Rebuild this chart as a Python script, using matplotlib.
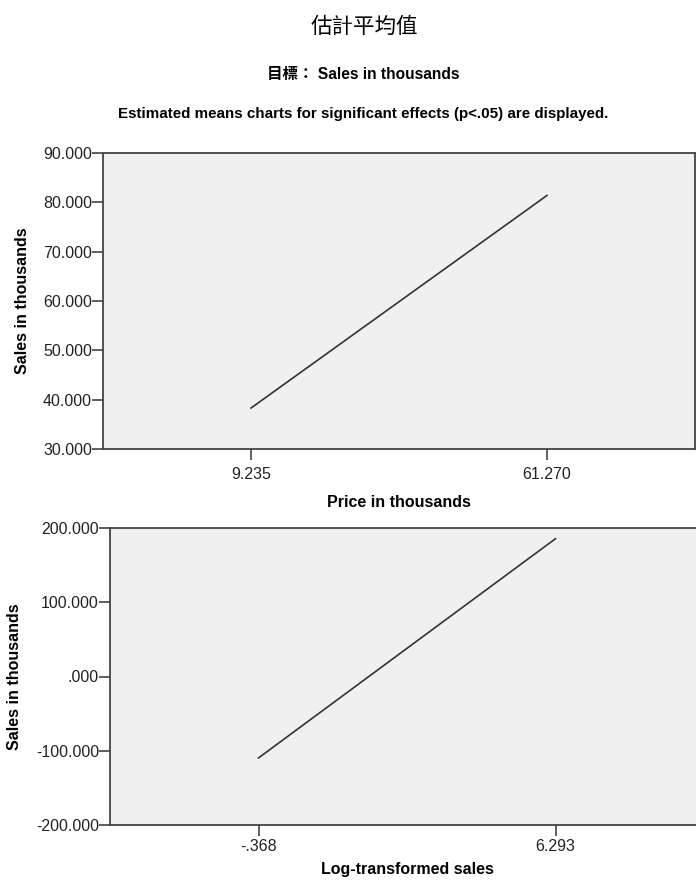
import numpy as np
import matplotlib.pyplot as plt
from matplotlib.ticker import FuncFormatter

# estimated marginal means read off the SPSS output
price_levels = ['9.235', '61.270']
price_means = [38.3, 81.4]

logsales_levels = ['-.368', '6.293']
logsales_means = [-109.7, 185.6]

ytitle = 'Sales in thousands'

plt.rcParams['font.family'] = ['Liberation Sans', 'Noto Sans CJK TC', 'DejaVu Sans']


def spss_fmt(v, pos=None):
    s = '{:.3f}'.format(v)
    s = s.replace('-0.', '-.')
    if s.startswith('0.'):
        s = s[1:]
    return s


def style_axes(ax, levels, means, xlabel, ylim, yticks, xpad, lpad):
    x = np.arange(len(levels))
    ax.plot(x, means, color='#333333', lw=1.2)
    ax.set_facecolor('#f0f0f0')
    ax.set_xlim(-0.5, len(levels) - 0.5)
    ax.set_ylim(*ylim)
    ax.set_xticks(x)
    ax.set_xticklabels(levels)
    ax.set_yticks(yticks)
    ax.yaxis.set_major_formatter(FuncFormatter(spss_fmt))
    for s in ax.spines.values():
        s.set_color('#444444')
        s.set_linewidth(1.3)
    ax.tick_params(axis='both', direction='out', length=8, width=1.1,
                   color='#333333', labelsize=11.5, labelcolor='#222222')
    ax.tick_params(axis='y', pad=0)
    ax.tick_params(axis='x', pad=xpad)
    ax.set_xlabel(xlabel, fontsize=11.5, fontweight='bold', labelpad=lpad)
    ax.set_ylabel(ytitle, fontsize=11.5, fontweight='bold')


fig = plt.figure(figsize=(6.96, 8.82), dpi=100)

fig.text(0.524, 0.969, '估計平均值', ha='center', va='center', fontsize=15.5)
fig.text(0.522, 0.916, '目標： Sales in thousands', ha='center', va='center',
         fontsize=11.2, fontweight='bold')
fig.text(0.522, 0.871, 'Estimated means charts for significant effects (p<.05) are displayed.',
         ha='center', va='center', fontsize=10.9, fontweight='bold')

ax1 = fig.add_axes([103 / 696, 1 - 449 / 882, 592 / 696, 296 / 882])
style_axes(ax1, price_levels, price_means, 'Price in thousands',
           (30, 90), [30, 40, 50, 60, 70, 80, 90], 5, 9)
ax1.yaxis.set_label_coords(-0.123, 0.5)

ax2 = fig.add_axes([110 / 696, 1 - 825 / 882, 594 / 696, 297 / 882])
style_axes(ax2, logsales_levels, logsales_means, 'Log-transformed sales',
           (-200, 200), [-200, -100, 0, 100, 200], 2, 6)
ax2.yaxis.set_label_coords(-0.148, 0.5)

fig.savefig('out.png', dpi=100)
